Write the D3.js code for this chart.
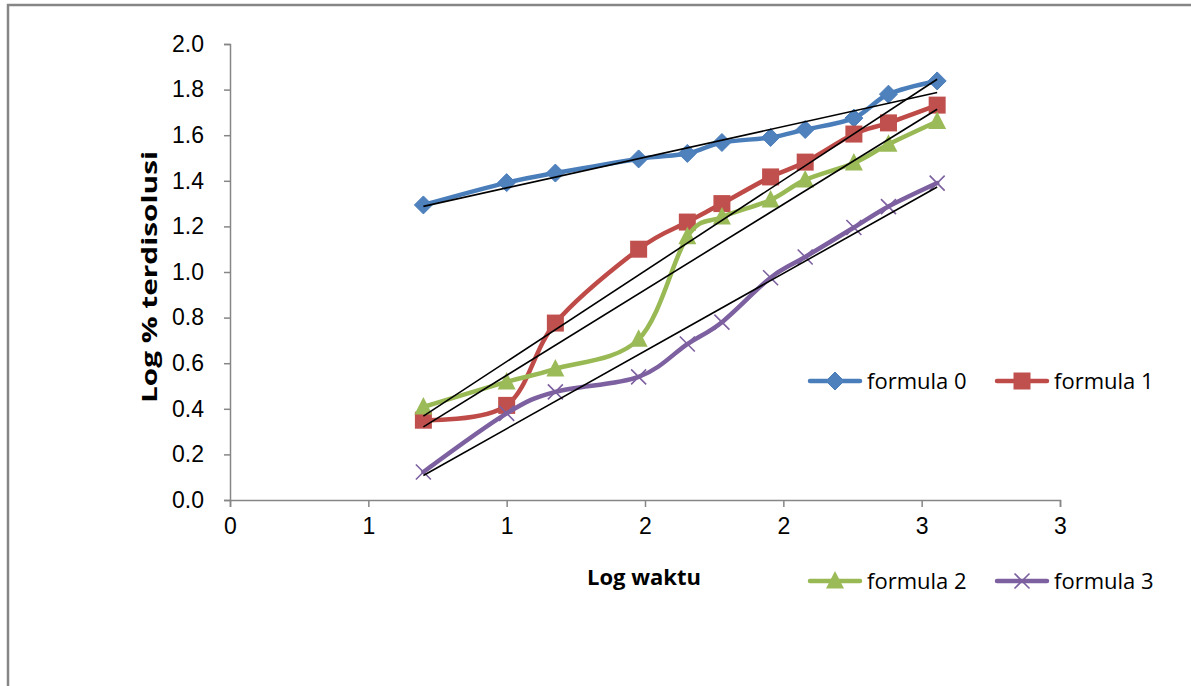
<!DOCTYPE html>
<html>
<head>
<meta charset="utf-8">
<script src="https://d3js.org/d3.v7.min.js"></script>
<style>
  html, body { margin: 0; padding: 0; background: #fff; }
  svg { display: block; font-family: "Open Sans", "Noto Sans", sans-serif; }
  .tick text { font-size: 23px; fill: #000; }
  .axis-title { font-size: 22px; font-weight: bold; fill: #000; }
  .legend text { font-size: 22px; fill: #000; }
</style>
</head>
<body>
<div id="chart"></div>
<script>
"use strict";

// log of sampling time (5, 10, 15, 30, 45, 60, 90, 120, 180, 240, 360 min)
const logTime = [0.699, 1.0, 1.176, 1.477, 1.653, 1.778, 1.954, 2.079, 2.255, 2.380, 2.556];

const formula0 = [1.294, 1.392, 1.434, 1.496, 1.520, 1.568, 1.590, 1.625, 1.675, 1.780, 1.838];
const formula1 = [0.350, 0.415, 0.776, 1.100, 1.219, 1.300, 1.417, 1.482, 1.605, 1.654, 1.732];
const formula2 = [0.408, 0.518, 0.575, 0.705, 1.155, 1.241, 1.316, 1.404, 1.478, 1.560, 1.660];
const formula3 = [0.123, 0.380, 0.474, 0.540, 0.684, 0.780, 0.975, 1.066, 1.195, 1.287, 1.390];

const seriesNames = ["formula 0", "formula 1", "formula 2", "formula 3"];
const xTicks = [0, 0.5, 1, 1.5, 2, 2.5, 3];
const yTicks = [0, 0.2, 0.4, 0.6, 0.8, 1.0, 1.2, 1.4, 1.6, 1.8, 2.0];

const COLORS = ["#4a7ebb", "#be4b48", "#98b954", "#7d60a0"];
const SHAPES = ["diamond", "square", "triangle", "cross"];

const W = 1191, H = 686;
const svg = d3.select("#chart").append("svg").attr("width", W).attr("height", H);

// chart area border (only top & left visible in the crop)
svg.append("path").attr("d", `M8,${H + 5}V5H${W + 5}`)
  .attr("fill", "none").attr("stroke", "#868686").attr("stroke-width", 2.5);

const x = d3.scaleLinear().domain([0, 3]).range([230, 1060]);
const y = d3.scaleLinear().domain([0, 2]).range([500, 44]);

// axes
const gx = svg.append("g").attr("transform", `translate(0,${y(0)})`)
  .call(d3.axisBottom(x).tickValues(xTicks).tickFormat(d3.format(".0f")).tickSizeOuter(0).tickSize(7).tickPadding(11));
const gy = svg.append("g").attr("transform", `translate(${x(0)},0)`)
  .call(d3.axisLeft(y).tickValues(yTicks).tickFormat(d3.format(".1f")).tickSizeOuter(0).tickSize(6).tickPadding(20));
[gx, gy].forEach((g) => {
  g.select(".domain").attr("stroke", "#868686").attr("stroke-width", 1.5);
  g.selectAll(".tick line").attr("stroke", "#868686").attr("stroke-width", 1.5);
  g.selectAll(".tick text").attr("font-family", null).attr("font-size", null);
});

svg.append("text").attr("class", "axis-title")
  .attr("transform", `translate(157,${277}) rotate(-90)`)
  .attr("text-anchor", "middle")
  .attr("textLength", 252).attr("lengthAdjust", "spacingAndGlyphs")
  .text("Log % terdisolusi");
svg.append("text").attr("class", "axis-title")
  .attr("x", 644).attr("y", 585).attr("text-anchor", "middle").text("Log waktu");

// markers
function marker(g, shape, color) {
  if (shape === "diamond") {
    g.append("path").attr("d", "M0,-9L9,0L0,9L-9,0Z").attr("fill", "#4f81bd").attr("stroke", color).attr("stroke-width", 1);
  } else if (shape === "square") {
    g.append("rect").attr("x", -8.5).attr("y", -8.5).attr("width", 17).attr("height", 17).attr("fill", "#c0504d");
  } else if (shape === "triangle") {
    g.append("path").attr("d", "M0,-10L9,7.5L-9,7.5Z").attr("fill", "#9bbb59");
  } else {
    g.append("path").attr("d", "M-7.5,-7.5L7.5,7.5M-7.5,7.5L7.5,-7.5").attr("stroke", color).attr("stroke-width", 1.6).attr("fill", "none");
  }
}

const allSeries = [formula0, formula1, formula2, formula3];
const line = d3.line().x((d) => x(d[0])).y((d) => y(d[1])).curve(d3.curveCatmullRom.alpha(0));

allSeries.forEach((vals, i) => {
  const pts = logTime.map((t, k) => [t, vals[k]]);
  const g = svg.append("g").attr("class", "series");
  g.append("path").datum(pts).attr("d", line)
    .attr("fill", "none").attr("stroke", COLORS[i]).attr("stroke-width", 4.5)
    .attr("stroke-linejoin", "round").attr("stroke-linecap", "round");
  g.selectAll("g.m").data(pts).join("g").attr("class", "m")
    .attr("transform", (d) => `translate(${x(d[0])},${y(d[1])})`)
    .each(function () { marker(d3.select(this), SHAPES[i], COLORS[i]); });
});

// linear trendlines (least squares on log time)
allSeries.forEach((vals) => {
  const mx = d3.mean(logTime), my = d3.mean(vals);
  const sxy = d3.sum(logTime, (t, k) => (t - mx) * (vals[k] - my));
  const sxx = d3.sum(logTime, (t) => (t - mx) * (t - mx));
  const b = sxy / sxx, a = my - b * mx;
  const ends = d3.extent(logTime);
  svg.append("line")
    .attr("x1", x(ends[0])).attr("y1", y(a + b * ends[0]))
    .attr("x2", x(ends[1])).attr("y2", y(a + b * ends[1]))
    .attr("stroke", "#000").attr("stroke-width", 1.6);
});

// legend, two rows
const legendPos = [[808, 381], [995, 381], [808, 581], [995, 581]];
seriesNames.forEach((name, i) => {
  const g = svg.append("g").attr("class", "legend")
    .attr("transform", `translate(${legendPos[i][0]},${legendPos[i][1]})`);
  g.append("line").attr("x1", 2).attr("x2", 52).attr("stroke", COLORS[i])
    .attr("stroke-width", 4.5).attr("stroke-linecap", "round");
  marker(g.append("g").attr("transform", "translate(27,0)"), SHAPES[i], COLORS[i]);
  g.append("text").attr("x", 59).attr("y", 8).text(name);
});
</script>
</body>
</html>
